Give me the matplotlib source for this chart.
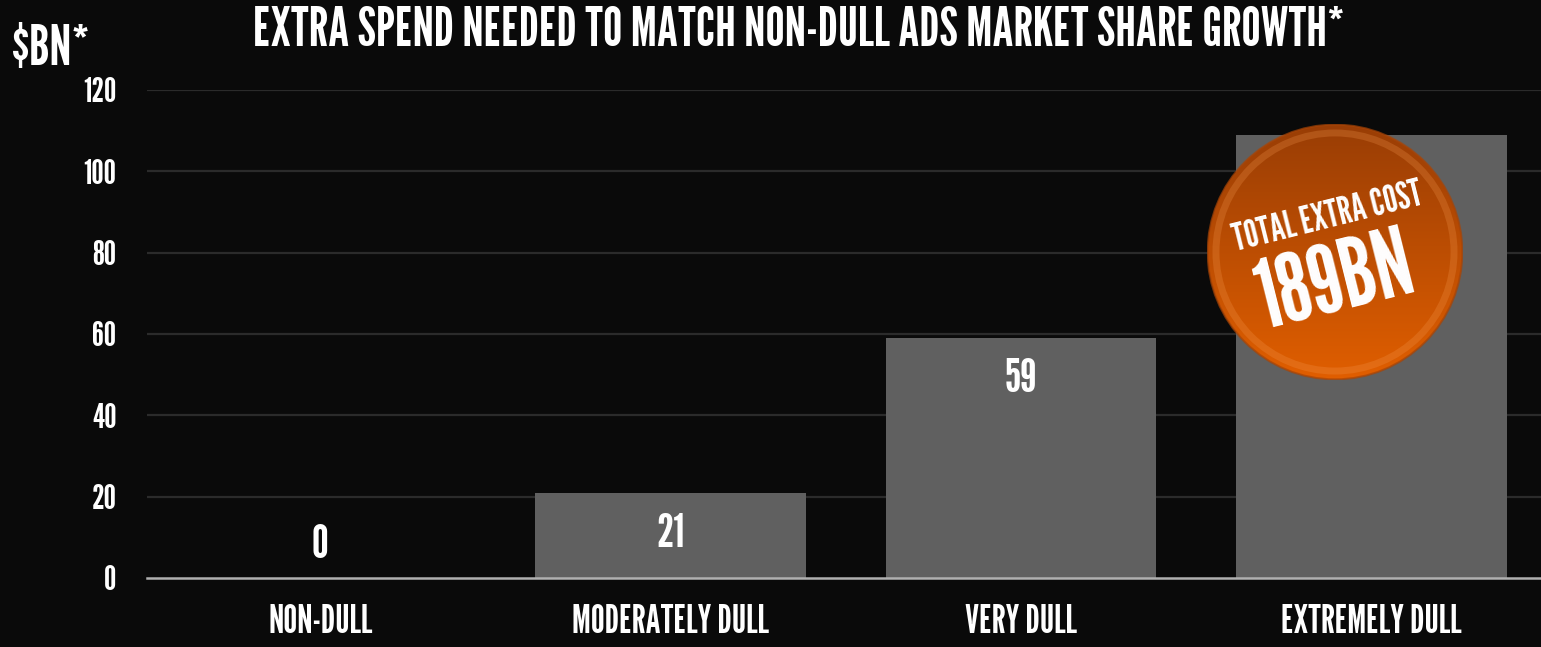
import matplotlib
matplotlib.use("Agg")
import matplotlib.pyplot as plt
import numpy as np
from matplotlib.patches import Circle

# Data
categories = ["NON-DULL", "MODERATELY DULL", "VERY DULL", "EXTREMELY DULL"]
extra_spend = [0, 21, 59, 109]
labelled = [True, True, True, False]
yticks = [0, 20, 40, 60, 80, 100, 120]
title = "EXTRA SPEND NEEDED TO MATCH NON-DULL ADS MARKET SHARE GROWTH*"
unit_label = "$BN*"
badge_top = "TOTAL EXTRA COST"
badge_total = "189BN"

FONT = ["League Gothic", "DejaVu Sans"]
BG = "#0a0a0a"
BAR = "#606060"
GRID = "#2b2b2b"
ZERO = "#b0b0b0"

W, H = 1541, 647
fig = plt.figure(figsize=(W / 100, H / 100), dpi=100, facecolor=BG)

ax = fig.add_axes([147 / W, (H - 578) / H, 1 - 147 / W, (578 - 90) / H])
ax.set_facecolor(BG)
x = np.arange(len(categories))
ax.set_xlim(-173 / 350, (W - 320) / 350 - 0.005)
ax.set_ylim(0, 120)

for t in yticks[1:]:
    ax.axhline(t, color=GRID, lw=1.6, zorder=1)
ax.axhline(0, color=ZERO, lw=1.8, zorder=4, clip_on=False)

ax.bar(x, extra_spend, width=270 / 350, color=BAR, zorder=3)

for xi, v, show in zip(x, extra_spend, labelled):
    if not show:
        continue
    y = v - 10.2 if v > 15 else 8.0
    ax.text(xi, y, str(v), ha="center", va="center", color="white",
            family=FONT, fontsize=34, zorder=5)

for s in ax.spines.values():
    s.set_visible(False)
ax.set_yticks(yticks)
ax.set_yticklabels([str(t) for t in yticks], family=FONT, fontsize=25, color="white")
ax.tick_params(axis="y", length=0, pad=22)
ax.set_xticks(x)
ax.set_xticklabels(categories, family=FONT, fontsize=28, color="white")
ax.tick_params(axis="x", length=0, pad=19)

fig.text(799 / W, 1 - 31 / H, title, ha="center", va="center", color="white",
         family=FONT, fontsize=39)
fig.text(12 / W, 1 - 50 / H, unit_label, ha="left", va="center", color="white",
         family=FONT, fontsize=40)

# Orange badge with a vertical gradient and a soft rim
bx = fig.add_axes([1207 / W, (H - 380) / H, 256 / W, 256 / H])
bx.set_xlim(-1, 1)
bx.set_ylim(-1, 1)
bx.set_aspect("equal")
bx.axis("off")
gy = np.linspace(0, 1, 256)[:, None]
top_c = np.array([0.60, 0.24, 0.02])
bot_c = np.array([0.88, 0.37, 0.00])
grad = (top_c * (1 - gy) + bot_c * gy)[:, None, :] * np.ones((1, 256, 1))
im = bx.imshow(grad, extent=[-1, 1, -1, 1], origin="upper", zorder=1)
clip = Circle((0, 0), 0.995, transform=bx.transData)
im.set_clip_path(clip)
bx.add_patch(Circle((0, 0), 0.93, fill=False, ec="#f59a50", lw=5, alpha=0.25, zorder=2))
bx.add_patch(Circle((0, 0), 0.995, fill=False, ec="#a84406", lw=1.5, alpha=0.7, zorder=2))

bx.text(-0.06, 0.27, badge_top, rotation=14, ha="center", va="center", color="white",
        family=FONT, fontsize=27, rotation_mode="anchor", zorder=3)
bx.text(0.0, -0.25, badge_total, rotation=14, ha="center", va="center", color="white",
        family=FONT, fontsize=68, rotation_mode="anchor", zorder=3)

fig.savefig("out.png", facecolor=BG)
